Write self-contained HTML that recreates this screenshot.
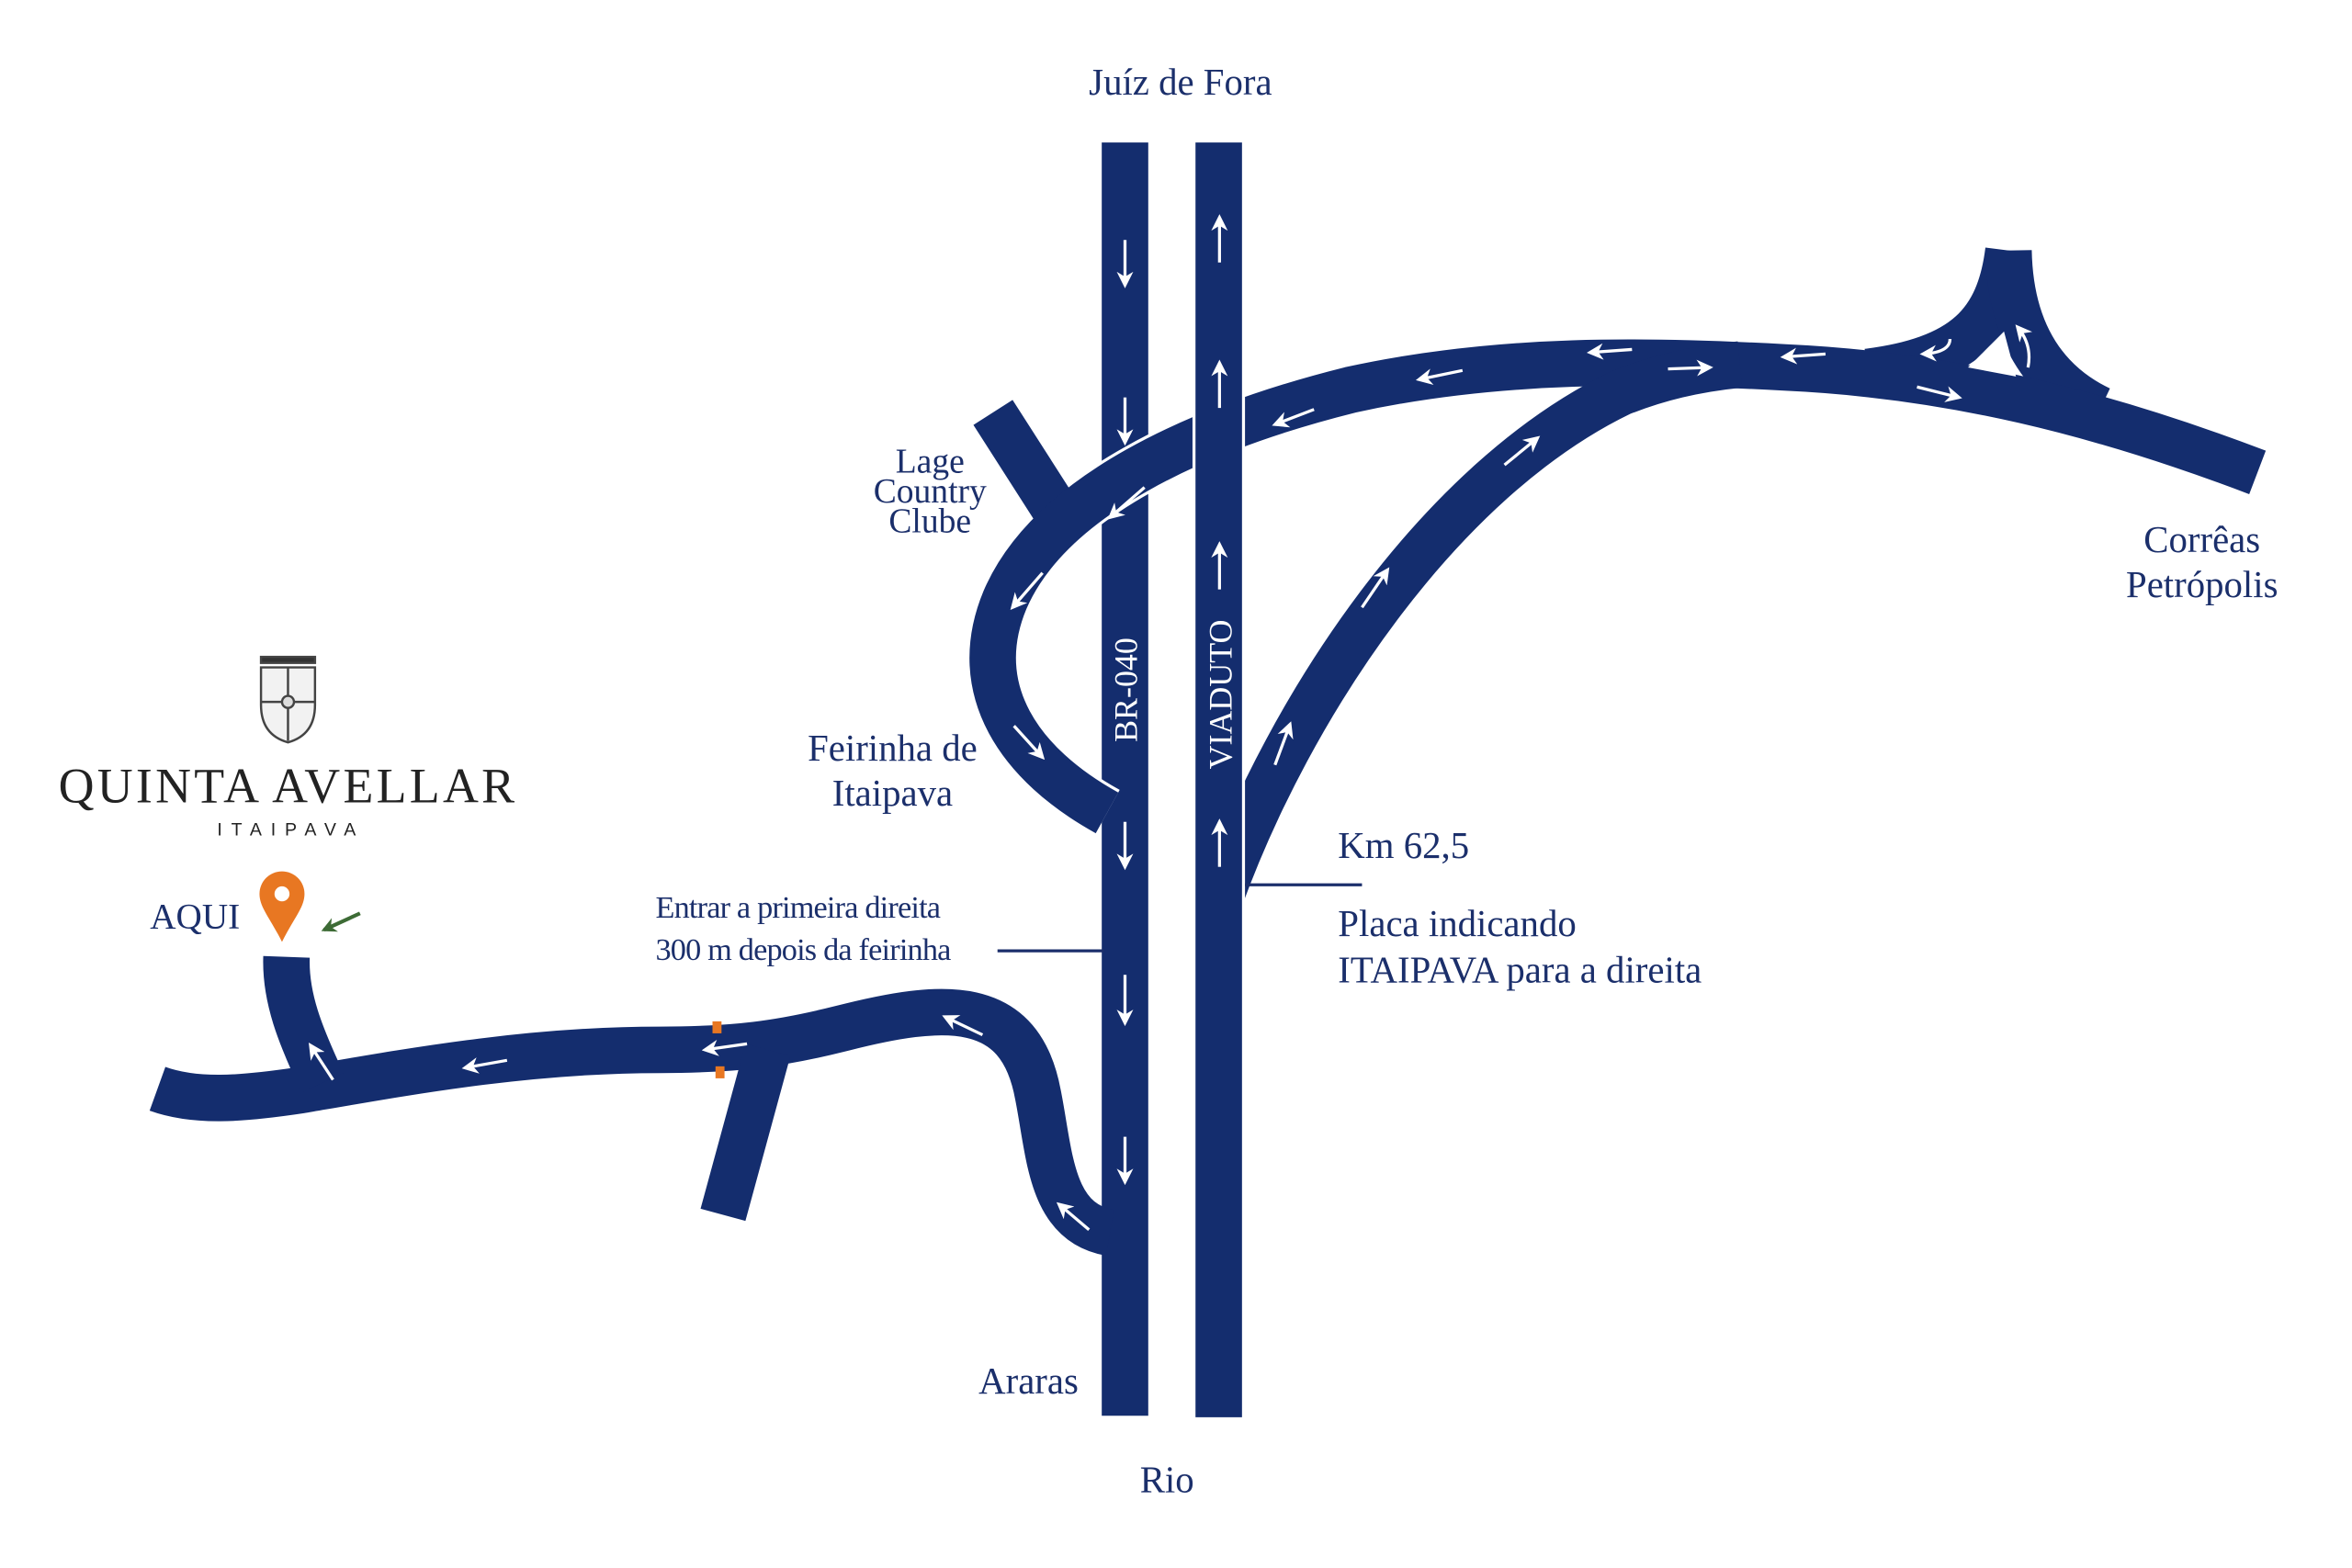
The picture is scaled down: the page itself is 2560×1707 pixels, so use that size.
<!DOCTYPE html>
<html><head><meta charset="utf-8"><style>
html,body{margin:0;padding:0;background:#fff;}
svg{display:block;}
text{font-family:"Liberation Serif",serif;fill:#1b2f6b;}
</style></head><body>
<svg width="2560" height="1707" viewBox="0 0 1568 1045.5" xmlns="http://www.w3.org/2000/svg">
<defs>
<marker id="ah" viewBox="0 0 10 10" refX="8" refY="5" markerWidth="5.5" markerHeight="5.5" orient="auto"><path d="M0,0 L10,5 L0,10 L3,5 z" fill="#fff"/></marker>
<marker id="ahg" viewBox="0 0 10 10" refX="8" refY="5" markerWidth="4" markerHeight="4" orient="auto"><path d="M0,0 L10,5 L0,10 L3,5 z" fill="#3d6b35"/></marker>
</defs>
<rect width="1568" height="1045.5" fill="#fff"/>
<g fill="none" stroke="#142d6e" stroke-width="31" stroke-linecap="butt">
<line x1="750" y1="95" x2="750" y2="944"/>
<path d="M 1505 315 C 1400 275, 1300 250, 1190 245 C 1100 240, 1000 238, 900 260 C 800 285, 700 330, 670 400 C 645 460, 680 510, 738 542" stroke="#fff" stroke-width="35"/>
<line x1="662" y1="275" x2="710" y2="350"/>
<path d="M 1339 167 C 1333 215, 1310 240, 1245 248"/>
<path d="M 1339 167 C 1340 220, 1362 255, 1400 273"/>
<path d="M 1505 315 C 1400 275, 1300 250, 1190 245 C 1100 240, 1000 238, 900 260 C 800 285, 700 330, 670 400 C 645 460, 680 510, 738 542"/>
<path d="M 813 600 C 860 470, 960 320, 1080 262 C 1105 252, 1130 246, 1160 243"/>
<path d="M 740 822 C 700 815, 700 770, 692 730 C 680 665, 630 668, 560 686 C 520 696, 490 700, 440 700 C 350 700, 270 715, 200 727 C 160 733, 130 735, 105 726"/>
<line x1="512" y1="700" x2="482" y2="810"/>
<path d="M 215 722 C 200 690, 190 665, 191 638"/>
</g>
<polygon points="1312,245 1336,221 1344,251" fill="#fff"/>
<rect x="795" y="95" width="35" height="850" fill="#fff"/>
<rect x="797" y="95" width="31" height="850" fill="#142d6e"/>
<g stroke="#fff" stroke-width="2" marker-end="url(#ah)">
<line x1="750" y1="160" x2="750" y2="190"/>
<line x1="750" y1="265" x2="750" y2="295"/>
<line x1="750" y1="548" x2="750" y2="578"/>
<line x1="750" y1="650" x2="750" y2="682"/>
<line x1="750" y1="758" x2="750" y2="788"/>
<line x1="813" y1="175" x2="813" y2="145"/>
<line x1="813" y1="272" x2="813" y2="242"/>
<line x1="813" y1="393" x2="813" y2="363"/>
<line x1="813" y1="578" x2="813" y2="548"/>
<line x1="850" y1="510" x2="860" y2="483"/>
<line x1="908" y1="405" x2="925" y2="380"/>
<line x1="1003" y1="310" x2="1025" y2="292"/>
<line x1="1088" y1="233" x2="1060" y2="235"/>
<line x1="1217" y1="236" x2="1189" y2="238"/>
<line x1="975" y1="247" x2="946" y2="253"/>
<line x1="876" y1="273" x2="850" y2="283"/>
<line x1="763" y1="325" x2="740" y2="345"/>
<line x1="695" y1="382" x2="675" y2="405"/>
<line x1="676" y1="484" x2="695" y2="505"/>
<line x1="1112" y1="246" x2="1140" y2="245"/>
<line x1="1278" y1="258" x2="1306" y2="265"/>
<line x1="655" y1="690" x2="630" y2="678"/>
<line x1="726" y1="820" x2="706" y2="803"/>
<line x1="498" y1="696" x2="470" y2="700"/>
<line x1="338" y1="707" x2="310" y2="712"/>
<line x1="222" y1="720" x2="207" y2="697"/>
</g>
<path d="M 1300 226 Q 1300 235 1282 236" stroke="#fff" stroke-width="2" fill="none" marker-end="url(#ah)"/>
<path d="M 1352 245 Q 1355 230 1345 218" stroke="#fff" stroke-width="2" fill="none" marker-end="url(#ah)"/>
<rect x="475" y="681" width="6" height="8" fill="#e87722"/>
<rect x="477" y="711" width="6" height="8" fill="#e87722"/>
<path d="M 188 628 C 180 612, 173 605, 173 596 A 15 15 0 1 1 203 596 C 203 605, 196 612, 188 628 z" fill="#e87722"/>
<circle cx="188" cy="596" r="5" fill="#fff"/>
<line x1="240" y1="609" x2="216" y2="620" stroke="#3d6b35" stroke-width="2.5" marker-end="url(#ahg)"/>
<line x1="665" y1="634" x2="736" y2="634" stroke="#1b2f6b" stroke-width="2"/>
<line x1="830" y1="590" x2="908" y2="590" stroke="#1b2f6b" stroke-width="2"/>
<text x="787" y="63" font-size="25" text-anchor="middle">Juíz de Fora</text>
<text x="778" y="995" font-size="25" text-anchor="middle">Rio</text>
<text x="719" y="929" font-size="25" text-anchor="end">Araras</text>
<text transform="translate(758,460) rotate(-90)" font-size="22" text-anchor="middle" style="fill:#fff">BR-040</text>
<text transform="translate(821,463) rotate(-90)" font-size="22" text-anchor="middle" style="fill:#fff">VIADUTO</text>
<g font-size="23" text-anchor="middle">
<text x="620" y="315">Lage</text><text x="620" y="335">Country</text><text x="620" y="355">Clube</text>
</g>
<text x="595" y="507" font-size="25" text-anchor="middle">Feirinha de</text>
<text x="595" y="537" font-size="25" text-anchor="middle">Itaipava</text>
<text x="1468" y="368" font-size="25" text-anchor="middle">Corrêas</text>
<text x="1468" y="398" font-size="25" text-anchor="middle">Petrópolis</text>
<text x="892" y="572" font-size="25">Km 62,5</text>
<text x="892" y="624" font-size="25">Placa indicando</text>
<text x="892" y="655" font-size="25">ITAIPAVA para a direita</text>
<text x="437" y="612" font-size="21" letter-spacing="-0.5">Entrar a primeira direita</text>
<text x="437" y="640" font-size="21" letter-spacing="-0.5">300 m depois da feirinha</text>
<text x="100" y="619" font-size="24">AQUI</text>
<g transform="translate(192,465)" stroke="#444" fill="none" stroke-width="1.5">
<rect x="-18" y="-27" width="36" height="4" fill="#333"/>
<path d="M -18 -20 L 18 -20 L 18 5 Q 18 25 0 30 Q -18 25 -18 5 z" fill="#f2f2f2"/>
<line x1="0" y1="-20" x2="0" y2="29"/><line x1="-18" y1="3" x2="18" y2="3"/>
<circle cx="0" cy="3" r="4" fill="#ddd"/>
</g>
<text x="192" y="535" font-size="33" text-anchor="middle" style="fill:#222" letter-spacing="2">QUINTA AVELLAR</text>
<text x="194" y="557" font-size="12" text-anchor="middle" style="fill:#222;font-family:'Liberation Sans',sans-serif" letter-spacing="6">ITAIPAVA</text>
</svg>
</body></html>
